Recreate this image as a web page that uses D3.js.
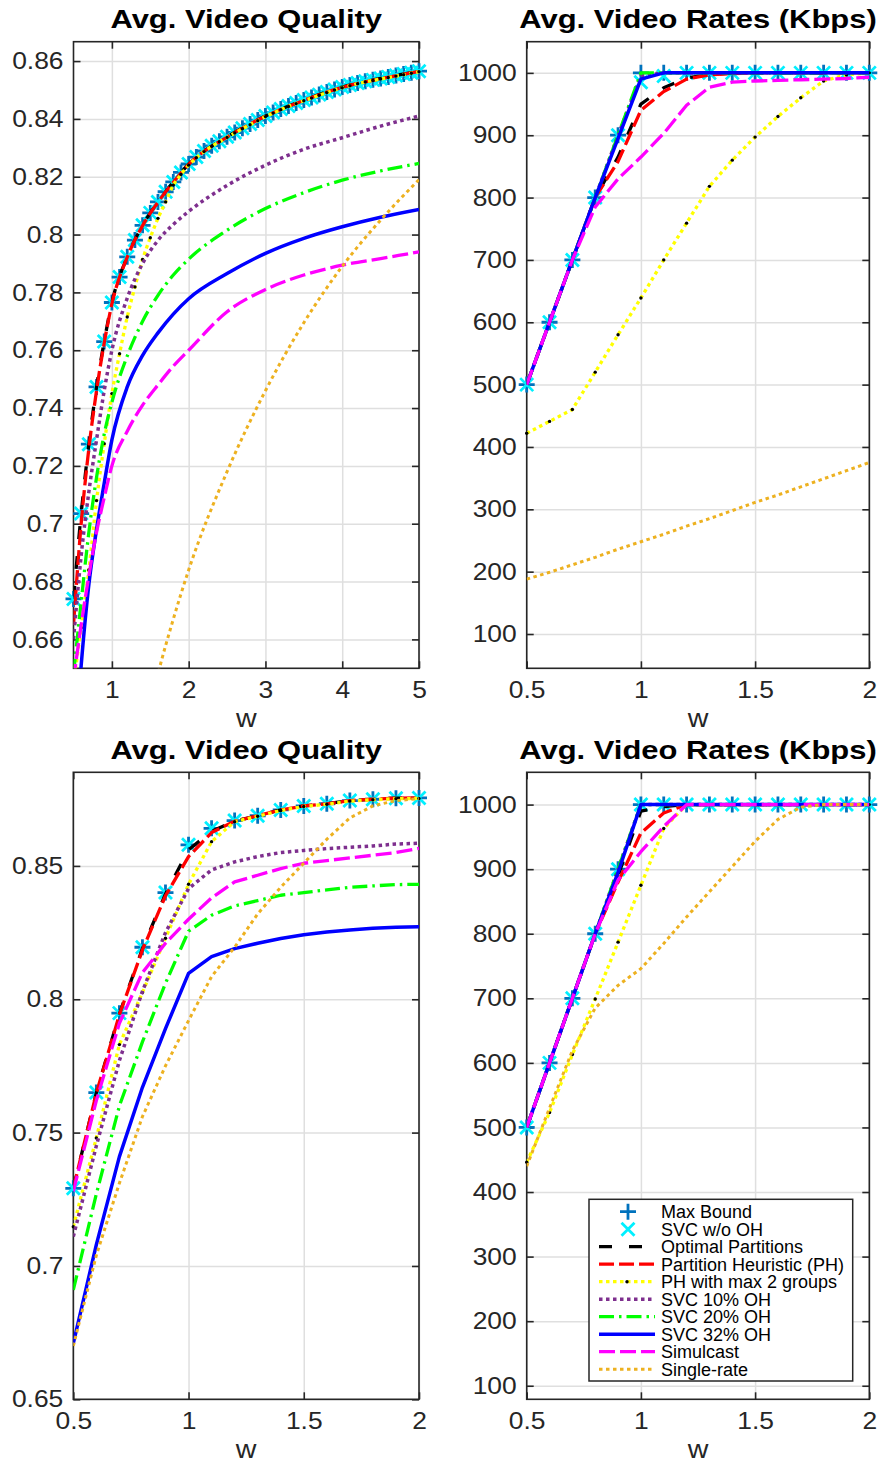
<!DOCTYPE html>
<html>
<head>
<meta charset="utf-8">
<script src="https://cdn.jsdelivr.net/npm/d3@7"></script>
<style>
  body { margin: 0; background: #fff; }
  svg { display: block; }
</style>
</head>
<body>
<svg id="fig" width="881" height="1464"></svg>
<script>
// ---------- x grids (w) ----------
const wFine = [0.5,0.6,0.7,0.8,0.9,1.0,1.1,1.2,1.3,1.4,1.5,1.6,1.7,1.8,1.9,2.0,
  2.1,2.2,2.3,2.4,2.5,2.6,2.7,2.8,2.9,3.0,3.1,3.2,3.3,3.4,3.5,3.6,3.7,3.8,3.9,4.0,
  4.1,4.2,4.3,4.4,4.5,4.6,4.7,4.8,4.9,5.0];
const wCoarse = [0.5,0.6,0.7,0.8,0.9,1.0,1.2,1.4,1.6,1.8,2.0,2.5,3.0,3.5,4.0,4.5,5.0];
const wSingleTop = [1.5,1.6,1.8,2.0,2.5,3.0,3.5,4.0,4.5,5.0];
const wShort = [0.5,0.6,0.7,0.8,0.9,1.0,1.1,1.2,1.3,1.4,1.5,1.6,1.7,1.8,1.9,2.0];

// ---------- top-left: average video quality, w in [0.5, 5] ----------
const q1MaxBound = [0.674,0.7035,0.7275,0.7473,0.763,0.7765,0.7853,0.7923,0.7981,0.8032,
  0.8075,0.8113,0.8148,0.8182,0.8215,0.8244,
  0.8268,0.8289,0.8307,0.8323,0.8338,0.8353,0.8368,0.8382,0.8396,0.841,
  0.8422,0.8434,0.8445,0.8455,0.8465,0.8474,0.8484,0.8493,0.8502,0.851,
  0.8517,0.8524,0.853,0.8535,0.854,0.8545,0.855,0.8555,0.856,0.8565];
const q1SvcNoOH = [0.674,0.7035,0.7275,0.7473,0.763,0.7765,0.7853,0.7923,0.7981,0.8032,
  0.8075,0.8113,0.8148,0.8182,0.8215,0.8244,
  0.8268,0.8289,0.8307,0.8323,0.8338,0.8353,0.8368,0.8382,0.8396,0.841,
  0.8422,0.8434,0.8445,0.8455,0.8465,0.8474,0.8484,0.8493,0.8502,0.851,
  0.8517,0.8524,0.853,0.8535,0.854,0.8545,0.855,0.8555,0.856,0.8565];
const q1Optimal = [0.674,0.7035,0.7275,0.7473,0.763,0.7765,0.7923,0.8032,0.8113,0.8182,0.8244,0.8338,0.841,0.8465,0.851,0.854,0.8565];
const q1PH = [0.665,0.700,0.726,0.746,0.7625,0.776,0.7922,0.8031,0.8112,0.8181,0.8243,0.8337,0.8409,0.8464,0.8509,0.8539,0.8564];
const q1PH2 = [0.645,0.664,0.684,0.708,0.7277,0.745,0.7588,0.7715,0.7819,0.7914,
  0.7989,0.8056,0.8113,0.8171,0.8208,0.824,
  0.8266,0.8287,0.8305,0.8321,0.8336,0.8351,0.8366,0.838,0.8394,0.8408,
  0.842,0.8432,0.8443,0.8453,0.8463,0.8472,0.8482,0.8491,0.85,0.8508,
  0.8515,0.8522,0.8528,0.8533,0.8538,0.8543,0.8548,0.8553,0.8558,0.8563];
const q1Svc10 = [0.660,0.689,0.711,0.729,0.746,0.760,0.778,0.790,0.798,0.8035,0.808,0.817,0.824,0.8295,0.8335,0.8375,0.841];
const q1Svc20 = [0.648,0.673,0.697,0.716,0.731,0.742,0.758,0.770,0.779,0.786,0.7915,0.8015,0.809,0.8145,0.8188,0.822,0.8246];
const q1Svc32 = [0.615,0.651,0.679,0.698,0.714,0.729,0.7473,0.7582,0.766,0.7725,0.7778,0.7865,0.7935,0.7987,0.8027,0.806,0.8087];
const q1Simulcast = [0.646,0.665,0.682,0.697,0.709,0.720,0.732,0.741,0.748,0.7545,0.760,0.7733,0.781,0.786,0.7894,0.7917,0.794];
const q1Single = [0.637,0.648,0.667,0.684,0.718,0.746,0.7695,0.789,0.805,0.819];

// ---------- top-right: average video rates (Kbps) ----------
const r1MaxBound = [500,600,700,800,900,1000,1000,1000,1000,1000,1000,1000,1000,1000,1000,1000];
const r1SvcNoOH = [500,600,700,800,900,985,995,1000,1000,1000,1000,1000,1000,1000,1000,1000];
const r1Optimal = [500,600,700,800,865,950,976,992,997,1000,1000,1000,1000,1000,1000,1000];
const r1PH = [500,600,700,800,858,940,970,990,997,999,1000,1000,1000,1000,1000,1000];
const r1PH2 = [422,441,460,520,580,639,700,759,818,860,897,930,960,987,997,1000];
const r1Svc10 = [500,600,700,800,900,995,1000,1000,1000,1000,1000,1000,1000,1000,1000,1000];
const r1Svc20 = [500,600,700,800,900,1000,1000,1000,1000,1000,1000,1000,1000,1000,1000,1000];
const r1Svc32 = [500,600,700,800,895,990,1000,1000,1000,1000,1000,1000,1000,1000,1000,1000];
const r1Simulcast = [500,600,700,785,830,865,903,948,977,985,987,988,989,990,991,993];
const r1Single = [188,199,211,223,236,248,260,273,285,298,311,323,336,349,362,375];

// ---------- bottom-left: average video quality, w in [0.5, 2] ----------
const q2MaxBound = [0.7291,0.765,0.7948,0.8195,0.84,0.8579,0.8641,0.867,0.8688,0.871,0.8725,0.8733,0.8745,0.875,0.8754,0.8755];
const q2SvcNoOH = [0.7291,0.765,0.7948,0.8195,0.84,0.8579,0.8641,0.867,0.8688,0.871,0.8725,0.8733,0.8745,0.875,0.8754,0.8755];
const q2Optimal = [0.729,0.765,0.7945,0.819,0.8395,0.856,0.863,0.8668,0.8688,0.871,0.8725,0.8733,0.8745,0.875,0.8754,0.8755];
const q2PH = [0.729,0.7648,0.7942,0.8185,0.8388,0.8535,0.8625,0.8668,0.8688,0.871,0.8725,0.8733,0.8745,0.875,0.8754,0.8755];
const q2PH2 = [0.7147,0.748,0.783,0.8025,0.8229,0.8431,0.8591,0.8666,0.8686,0.8708,0.8723,0.8731,0.8743,0.8748,0.8752,0.8753];
const q2Svc10 = [0.711,0.745,0.777,0.803,0.825,0.8415,0.8485,0.8515,0.8535,0.855,0.8558,0.8565,0.857,0.8575,0.8582,0.8585];
const q2Svc20 = [0.691,0.727,0.760,0.784,0.806,0.8255,0.8315,0.835,0.837,0.839,0.840,0.841,0.842,0.8425,0.843,0.8431];
const q2Svc32 = [0.671,0.708,0.741,0.767,0.789,0.8097,0.816,0.819,0.821,0.8228,0.8242,0.8252,0.826,0.8266,0.827,0.8272];
const q2Simulcast = [0.728,0.762,0.791,0.810,0.821,0.830,0.838,0.844,0.8465,0.849,0.851,0.852,0.853,0.854,0.855,0.8566];
const q2Single = [0.670,0.704,0.731,0.756,0.775,0.792,0.8085,0.8195,0.832,0.842,0.851,0.860,0.868,0.8725,0.8745,0.8752];

// ---------- bottom-right: average video rates (Kbps) ----------
const r2MaxBound = [500,600,700,800,900,1000,1000,1000,1000,1000,1000,1000,1000,1000,1000,1000];
const r2SvcNoOH = [500,600,700,800,900,1000,1000,1000,1000,1000,1000,1000,1000,1000,1000,1000];
const r2Optimal = [500,600,700,800,890,990,997,1000,1000,1000,1000,1000,1000,1000,1000,1000];
const r2PH = [500,600,700,800,880,956,987,1000,1000,1000,1000,1000,1000,1000,1000,1000];
const r2PH2 = [446,523,613,699,787,875,963,1000,1000,1000,1000,1000,1000,1000,1000,1000];
const r2Svc10 = [500,600,700,800,900,1000,1000,1000,1000,1000,1000,1000,1000,1000,1000,1000];
const r2Svc20 = [500,600,700,800,900,1000,1000,1000,1000,1000,1000,1000,1000,1000,1000,1000];
const r2Svc32 = [500,600,700,800,895,1000,1000,1000,1000,1000,1000,1000,1000,1000,1000,1000];
const r2Simulcast = [500,600,700,800,883,927,966,1000,1000,1000,1000,1000,1000,1000,1000,1000];
const r2Single = [440,530,619,685,720,746,785,826,865,904,943,977,996,1000,1000,1000];

// ---------- ticks and labels ----------
const xTicksLong = [1,2,3,4,5];
const xTickLabelsLong = ['1','2','3','4','5'];
const xTicksShort = [0.5,1,1.5,2];
const xTickLabelsShort = ['0.5','1','1.5','2'];
const yTicksQ1 = [0.66,0.68,0.70,0.72,0.74,0.76,0.78,0.80,0.82,0.84,0.86];
const yTickLabelsQ1 = ['0.66','0.68','0.7','0.72','0.74','0.76','0.78','0.8','0.82','0.84','0.86'];
const yTicksQ2 = [0.65,0.70,0.75,0.80,0.85];
const yTickLabelsQ2 = ['0.65','0.7','0.75','0.8','0.85'];
const yTicksRate = [100,200,300,400,500,600,700,800,900,1000];
const yTickLabelsRate = ['100','200','300','400','500','600','700','800','900','1000'];
const titleQuality = 'Avg. Video Quality';
const titleRate = 'Avg. Video Rates (Kbps)';
const xLabel = 'w';

// ---------- series appearance (plot order = legend order) ----------
const seriesOrder = ['maxBound','svcNoOH','optimal','ph','ph2','svc10','svc20','svc32','simulcast','single'];
const styles = {
  maxBound:  { label: 'Max Bound', marker: 'plus', color: '#0072BD' },
  svcNoOH:   { label: 'SVC w/o OH', marker: 'cross', color: '#00F0FF' },
  optimal:   { label: 'Optimal Partitions', color: '#000000', width: 3.3, dash: '13,17' },
  ph:        { label: 'Partition Heuristic (PH)', color: '#FF0000', width: 3.3, dash: '15,5' },
  ph2:       { label: 'PH with max 2 groups', color: '#FFFF00', width: 3.3, dash: '3.5,3.5', dots: true },
  svc10:     { label: 'SVC 10% OH', color: '#7E2F8E', width: 3.5, dash: '3.5,3.5' },
  svc20:     { label: 'SVC 20% OH', color: '#00FF00', width: 3.3, dash: '15,5,2.5,5' },
  svc32:     { label: 'SVC 32% OH', color: '#0000FF', width: 3.5, dash: null },
  simulcast: { label: 'Simulcast', color: '#FF00FF', width: 3.3, dash: '16,5' },
  single:    { label: 'Single-rate', color: '#EDB120', width: 3, dash: '3.5,3.5' }
};

const panels = [
  { title: titleQuality, box: {l: 73.5, r: 419, t: 41.7, b: 668.3},
    xDom: [0.5, 5], yDom: [0.65, 0.8667], smooth: true,
    xTicks: xTicksLong, xLabels: xTickLabelsLong, yTicks: yTicksQ1, yLabels: yTickLabelsQ1,
    series: {
      maxBound: [wFine, q1MaxBound], svcNoOH: [wFine, q1SvcNoOH],
      optimal: [wCoarse, q1Optimal], ph: [wCoarse, q1PH], ph2: [wFine, q1PH2],
      svc10: [wCoarse, q1Svc10], svc20: [wCoarse, q1Svc20], svc32: [wCoarse, q1Svc32],
      simulcast: [wCoarse, q1Simulcast], single: [wSingleTop, q1Single] } },
  { title: titleRate, box: {l: 526.7, r: 869.3, t: 41.7, b: 668.3},
    xDom: [0.5, 2], yDom: [45, 1050], smooth: false,
    xTicks: xTicksShort, xLabels: xTickLabelsShort, yTicks: yTicksRate, yLabels: yTickLabelsRate,
    series: {
      maxBound: [wShort, r1MaxBound], svcNoOH: [wShort, r1SvcNoOH],
      optimal: [wShort, r1Optimal], ph: [wShort, r1PH], ph2: [wShort, r1PH2],
      svc10: [wShort, r1Svc10], svc20: [wShort, r1Svc20], svc32: [wShort, r1Svc32],
      simulcast: [wShort, r1Simulcast], single: [wShort, r1Single] } },
  { title: titleQuality, box: {l: 73.3, r: 419, t: 772.3, b: 1399.3},
    xDom: [0.5, 2], yDom: [0.65, 0.8851], smooth: false,
    xTicks: xTicksShort, xLabels: xTickLabelsShort, yTicks: yTicksQ2, yLabels: yTickLabelsQ2,
    series: {
      maxBound: [wShort, q2MaxBound], svcNoOH: [wShort, q2SvcNoOH],
      optimal: [wShort, q2Optimal], ph: [wShort, q2PH], ph2: [wShort, q2PH2],
      svc10: [wShort, q2Svc10], svc20: [wShort, q2Svc20], svc32: [wShort, q2Svc32],
      simulcast: [wShort, q2Simulcast], single: [wShort, q2Single] } },
  { title: titleRate, box: {l: 526.7, r: 869.3, t: 772.3, b: 1399.3},
    xDom: [0.5, 2], yDom: [79, 1050], smooth: false, legend: true,
    xTicks: xTicksShort, xLabels: xTickLabelsShort, yTicks: yTicksRate, yLabels: yTickLabelsRate,
    series: {
      maxBound: [wShort, r2MaxBound], svcNoOH: [wShort, r2SvcNoOH],
      optimal: [wShort, r2Optimal], ph: [wShort, r2PH], ph2: [wShort, r2PH2],
      svc10: [wShort, r2Svc10], svc20: [wShort, r2Svc20], svc32: [wShort, r2Svc32],
      simulcast: [wShort, r2Simulcast], single: [wShort, r2Single] } }
];

const FONT = '"Liberation Sans", Arial, Helvetica, sans-serif';
const AXIS_COLOR = '#262626';
const GRID_COLOR = '#dfdfdf';
const TICK_FS = 24, TICK_SX = 1.1;
const TITLE_FS = 26, TITLE_SX = 1.19;

const svg = d3.select('#fig');
svg.append('rect').attr('width', 881).attr('height', 1464).attr('fill', '#fff');

function drawMarker(g, kind, cx, cy, color, h) {
  const p = kind === 'plus'
    ? `M${cx - h},${cy}H${cx + h}M${cx},${cy - h}V${cy + h}`
    : `M${cx - h},${cy - h}L${cx + h},${cy + h}M${cx - h},${cy + h}L${cx + h},${cy - h}`;
  g.append('path').attr('d', p).attr('stroke', color).attr('stroke-width', 2.8)
    .attr('fill', 'none').attr('stroke-linecap', 'butt');
}

panels.forEach((P, pi) => {
  const { l, r, t, b } = P.box;
  const x = d3.scaleLinear().domain(P.xDom).range([l, r]);
  const y = d3.scaleLinear().domain(P.yDom).range([b, t]);
  const g = svg.append('g');

  // clip region for lines
  const clipId = 'clip' + pi;
  svg.append('defs').append('clipPath').attr('id', clipId)
    .append('rect').attr('x', l).attr('y', t).attr('width', r - l).attr('height', b - t);

  g.append('rect').attr('x', l).attr('y', t).attr('width', r - l).attr('height', b - t).attr('fill', '#fff');

  // grid
  const gx = g.append('g').attr('transform', `translate(0,${b})`)
    .call(d3.axisBottom(x).tickValues(P.xTicks).tickSize(-(b - t)).tickFormat(''));
  const gy = g.append('g').attr('transform', `translate(${l},0)`)
    .call(d3.axisLeft(y).tickValues(P.yTicks).tickSize(-(r - l)).tickFormat(''));
  [gx, gy].forEach(a => {
    a.select('.domain').remove();
    a.selectAll('line').attr('stroke', GRID_COLOR).attr('stroke-width', 1.5);
  });

  // box
  g.append('rect').attr('x', l).attr('y', t).attr('width', r - l).attr('height', b - t)
    .attr('fill', 'none').attr('stroke', AXIS_COLOR).attr('stroke-width', 1.6);

  // inward ticks on four sides + labels
  const axes = [
    { gen: d3.axisBottom(x).tickValues(P.xTicks), tr: `translate(0,${b})`, labels: P.xLabels, side: 'bottom' },
    { gen: d3.axisTop(x).tickValues(P.xTicks), tr: `translate(0,${t})`, labels: null, side: 'top' },
    { gen: d3.axisLeft(y).tickValues(P.yTicks), tr: `translate(${l},0)`, labels: P.yLabels, side: 'left' },
    { gen: d3.axisRight(y).tickValues(P.yTicks), tr: `translate(${r},0)`, labels: null, side: 'right' }
  ];
  axes.forEach(A => {
    A.gen.tickSizeInner(-7).tickSizeOuter(0)
      .tickPadding(A.side === 'bottom' ? 13 : 10)
      .tickFormat((d, i) => A.labels ? A.labels[i] : '');
    const ag = g.append('g').attr('transform', A.tr).call(A.gen);
    ag.select('.domain').remove();
    ag.selectAll('line').attr('stroke', AXIS_COLOR).attr('stroke-width', 1.6);
    ag.attr('font-family', null).attr('font-size', null);
    const txt = ag.selectAll('text');
    if (!A.labels) { txt.remove(); return; }
    txt.attr('font-family', FONT).attr('font-size', TICK_FS).attr('fill', AXIS_COLOR);
    if (A.side === 'bottom') {
      txt.attr('transform', `scale(${TICK_SX},1)`);
    } else {
      txt.attr('transform', `translate(-10,0) scale(${TICK_SX},1) translate(10,0)`);
    }
  });

  // data: markers and lines in plotting order
  const dataG = g.append('g');
  seriesOrder.forEach(key => {
    const s = styles[key];
    const [xs, ys] = P.series[key];
    const pts = xs.map((w, i) => [w, ys[i]]);
    if (s.marker) {
      const mg = dataG.append('g');
      pts.filter(p => p[1] >= P.yDom[0] && p[1] <= P.yDom[1])
        .forEach(p => drawMarker(mg, s.marker, x(p[0]), y(p[1]), s.color, s.marker === 'plus' ? 8 : 6.5));
      return;
    }
    const line = d3.line().x(p => x(p[0])).y(p => y(p[1]))
      .curve(P.smooth ? d3.curveMonotoneX : d3.curveLinear);
    dataG.append('path').datum(pts)
      .attr('clip-path', `url(#${clipId})`)
      .attr('d', line).attr('fill', 'none')
      .attr('stroke', s.color).attr('stroke-width', s.width)
      .attr('stroke-dasharray', s.dash)
      .attr('stroke-linejoin', 'round');
    if (s.dots) {
      dataG.append('g').selectAll('circle')
        .data(pts.filter(p => p[1] >= P.yDom[0] && p[1] <= P.yDom[1]))
        .join('circle').attr('cx', p => x(p[0])).attr('cy', p => y(p[1]))
        .attr('r', 1.7).attr('fill', '#000');
    }
  });

  // title
  const cx = (l + r) / 2;
  g.append('text').attr('transform', `translate(${cx},${t - 13.4}) scale(${TITLE_SX},1)`)
    .attr('text-anchor', 'middle').attr('font-family', FONT).attr('font-weight', 'bold')
    .attr('font-size', TITLE_FS).attr('fill', '#000').text(P.title);

  // x label
  g.append('text').attr('transform', `translate(${cx},${b + 58.4}) scale(1.1,1)`)
    .attr('text-anchor', 'middle').attr('font-family', FONT)
    .attr('font-size', 26).attr('fill', AXIS_COLOR).text(xLabel);

  // legend
  if (P.legend) {
    const lg = g.append('g');
    const L = { x0: 589, y0: 1199.3, x1: 852.7, y1: 1381 };
    lg.append('rect').attr('x', L.x0).attr('y', L.y0).attr('width', L.x1 - L.x0).attr('height', L.y1 - L.y0)
      .attr('fill', '#fff').attr('stroke', AXIS_COLOR).attr('stroke-width', 1.5);
    seriesOrder.forEach((key, i) => {
      const s = styles[key];
      const cy = 1211.7 + 17.5 * i;
      if (s.marker) {
        drawMarker(lg, s.marker, 628, cy, s.color, s.marker === 'plus' ? 8 : 6.5);
      } else {
        lg.append('line').attr('x1', 599).attr('x2', 655).attr('y1', cy).attr('y2', cy)
          .attr('stroke', s.color).attr('stroke-width', s.width).attr('stroke-dasharray', s.dash);
        if (s.dots) lg.append('circle').attr('cx', 627).attr('cy', cy).attr('r', 1.7).attr('fill', '#000');
      }
      lg.append('text').attr('x', 661).attr('y', cy + 6.5)
        .attr('font-family', FONT).attr('font-size', 18).attr('fill', '#000').text(s.label);
    });
  }
});
</script>
</body>
</html>
